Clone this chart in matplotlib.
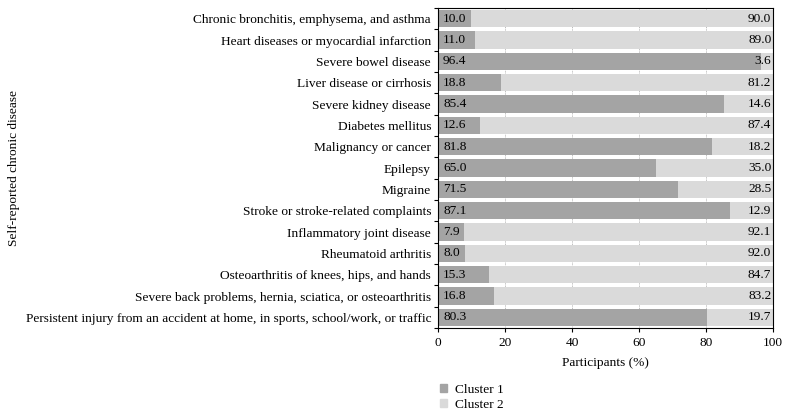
import numpy as np
import matplotlib.pyplot as plt
from matplotlib.patches import Patch

plt.rcParams['font.family'] = ['Liberation Serif', 'DejaVu Serif']

diseases = [
    'Chronic bronchitis, emphysema, and asthma',
    'Heart diseases or myocardial infarction',
    'Severe bowel disease',
    'Liver disease or cirrhosis',
    'Severe kidney disease',
    'Diabetes mellitus',
    'Malignancy or cancer',
    'Epilepsy',
    'Migraine',
    'Stroke or stroke-related complaints',
    'Inflammatory joint disease',
    'Rheumatoid arthritis',
    'Osteoarthritis of knees, hips, and hands',
    'Severe back problems, hernia, sciatica, or osteoarthritis',
    'Persistent injury from an accident at home, in sports, school/work, or traffic',
]
cluster1 = [10.0, 11.0, 96.4, 18.8, 85.4, 12.6, 81.8, 65.0, 71.5, 87.1, 7.9, 8.0, 15.3, 16.8, 80.3]
cluster2 = [90.0, 89.0, 3.6, 81.2, 14.6, 87.4, 18.2, 35.0, 28.5, 12.9, 92.1, 92.0, 84.7, 83.2, 19.7]

c1_color = '#a4a4a4'
c2_color = '#dadada'
fs = 9.6

fig = plt.figure(figsize=(7.9, 4.16), dpi=100)
ax = fig.add_axes([438 / 790, 1 - 328 / 416, 335 / 790, 320 / 416])

y = np.arange(len(diseases))
ax.barh(y, cluster1, height=0.8, color=c1_color, zorder=2)
ax.barh(y, cluster2, left=cluster1, height=0.8, color=c2_color, zorder=2)

for i in range(len(diseases)):
    ax.text(1.5, y[i], '%.1f' % cluster1[i], va='center', ha='left', fontsize=fs, zorder=3)
    ax.text(99.5, y[i], '%.1f' % cluster2[i], va='center', ha='right', fontsize=fs, zorder=3)

ax.set_xlim(0, 100)
ax.set_ylim(len(diseases) - 0.5, -0.5)
ax.set_xticks([0, 20, 40, 60, 80, 100])
ax.set_yticks(y)
ax.set_yticklabels(diseases, fontsize=fs)
ax.set_yticks(np.arange(-0.5, len(diseases), 1), minor=True)
ax.tick_params(axis='y', which='major', length=0, pad=5)
ax.tick_params(axis='y', which='minor', length=3, width=0.8)
ax.tick_params(axis='x', labelsize=fs, length=3, width=0.8)
ax.xaxis.grid(True, linestyle=':', color='#888888', linewidth=0.6, zorder=0)
ax.set_axisbelow(True)
for s in ax.spines.values():
    s.set_linewidth(0.8)

ax.set_xlabel('Participants (%)', fontsize=fs, labelpad=6)
fig.text(0.01, 1 - 168 / 416, 'Self-reported chronic disease', rotation=90,
         va='center', ha='left', fontsize=fs)

handles = [Patch(color=c1_color), Patch(color=c2_color)]
fig.legend(handles, ['Cluster 1', 'Cluster 2'], loc='upper left',
           bbox_to_anchor=(428 / 790, 1 - 372 / 416), frameon=False, fontsize=fs,
           handlelength=0.5, handleheight=0.5, handletextpad=0.6, labelspacing=0.2)

fig.savefig('out.png', dpi=100)
